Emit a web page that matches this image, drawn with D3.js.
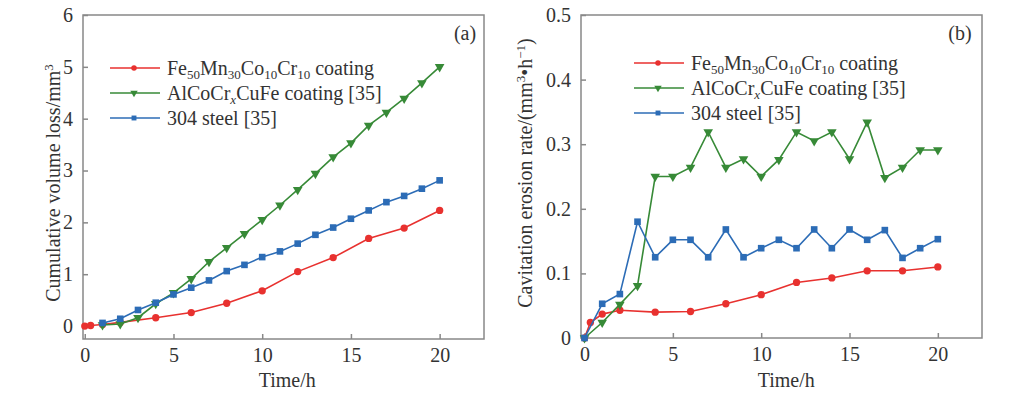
<!DOCTYPE html>
<html>
<head>
<meta charset="utf-8">
<script src="https://cdn.jsdelivr.net/npm/d3@7"></script>
<style>
  body { margin: 0; background: #fff; }
  svg { display: block; font-family: "Liberation Serif", "Times New Roman", serif; }
  .axis path, .axis line { stroke: #888; stroke-width: 1.5; }
  .axis text { fill: #333; font-size: 20px; font-family: "Liberation Serif", serif; }
  .lbl { fill: #333; font-size: 20px; font-family: "Liberation Serif", serif; }
</style>
</head>
<body>
<svg width="1024" height="396"></svg>
<script>
// Time (h) for each series
var redTime = [0, 0.33, 1, 2, 4, 6, 8, 10, 12, 14, 16, 18, 20];
var hourTime = [1, 2, 3, 4, 5, 6, 7, 8, 9, 10, 11, 12, 13, 14, 15, 16, 17, 18, 19, 20];
var hourTime0 = [0].concat(hourTime);

// (a) cumulative volume loss, mm3
var redCum = [0, 0.01, 0.03, 0.07, 0.16, 0.26, 0.44, 0.68, 1.05, 1.32, 1.69, 1.89, 2.23];
var greenCum = [0.02, 0.04, 0.16, 0.43, 0.64, 0.91, 1.24, 1.51, 1.78, 2.05, 2.33, 2.63, 2.94, 3.26, 3.53, 3.87, 4.12, 4.39, 4.69, 5.0];
var blueCum = [0.06, 0.14, 0.31, 0.45, 0.61, 0.74, 0.88, 1.06, 1.18, 1.33, 1.44, 1.59, 1.76, 1.90, 2.07, 2.23, 2.39, 2.51, 2.65, 2.81];

// (b) cavitation erosion rate
var redRate = [0, 0.024, 0.037, 0.043, 0.040, 0.041, 0.053, 0.067, 0.086, 0.093, 0.104, 0.104, 0.110];
var greenRate = [0, 0.024, 0.052, 0.081, 0.25, 0.25, 0.264, 0.319, 0.264, 0.277, 0.25, 0.276, 0.319, 0.305, 0.319, 0.277, 0.334, 0.248, 0.264, 0.291, 0.291];
var blueRate = [0, 0.053, 0.068, 0.18, 0.125, 0.152, 0.152, 0.125, 0.168, 0.125, 0.139, 0.152, 0.139, 0.168, 0.139, 0.168, 0.152, 0.167, 0.124, 0.139, 0.153];

var xTicks = [0, 5, 10, 15, 20];
var yTicksA = [0, 1, 2, 3, 4, 5, 6];
var yTicksB = [0, 0.1, 0.2, 0.3, 0.4, 0.5];

var RED = "#e8312f", GREEN = "#378a37", BLUE = "#2c6cb6";

var svg = d3.select("svg");

function zip(xs, ys) { return xs.map(function(x, i) { return [x, ys[i]]; }); }

// flip a d3 symbol path upside down (for the down-pointing triangles)
function flip(path) {
  return "M" + path.slice(1).split(/(?=[LZ])/).map(function(seg) {
    var c = seg.replace(/^[MLZ]/, "");
    if (!c) return "";
    var p = c.split(",");
    return (+p[0]) + "," + (-p[1]);
  }).filter(Boolean).join("L") + "Z";
}

function panel(opt) {
  var x = d3.scaleLinear().domain(opt.xDom).range([opt.left, opt.right]);
  var y = d3.scaleLinear().domain(opt.yDom).range([opt.bottom, opt.top]);
  var g = svg.append("g");

  // frame
  g.append("rect")
    .attr("x", opt.left).attr("y", opt.top)
    .attr("width", opt.right - opt.left).attr("height", opt.bottom - opt.top)
    .attr("fill", "none").attr("stroke", "#888").attr("stroke-width", 1.5);

  g.append("g").attr("class", "axis")
    .attr("transform", "translate(0," + opt.bottom + ")")
    .call(d3.axisBottom(x).tickValues(xTicks).tickSizeInner(-5).tickSizeOuter(0).tickPadding(9).tickFormat(d3.format("d")));

  g.append("g").attr("class", "axis")
    .attr("transform", "translate(" + opt.left + ",0)")
    .call(d3.axisLeft(y).tickValues(opt.yTicks).tickSizeInner(-5).tickSizeOuter(0).tickPadding(10).tickFormat(opt.fmt));

  g.selectAll(".axis .domain").remove();

  var line = d3.line().x(function(d) { return x(d[0]); }).y(function(d) { return y(d[1]); });

  opt.series.forEach(function(s) {
    var pts = zip(s.t, s.v);
    g.append("path").datum(pts)
      .attr("d", line).attr("fill", "none")
      .attr("stroke", s.color).attr("stroke-width", 1.6);
    g.selectAll(null).data(pts).enter()
      .append("path")
      .attr("transform", function(d) { return "translate(" + x(d[0]) + "," + y(d[1]) + ")"; })
      .attr("d", s.sym)
      .attr("fill", s.color);
  });

  // legend
  var names = [
    [["Fe", 0], ["50", 1], ["Mn", 0], ["30", 1], ["Co", 0], ["10", 1], ["Cr", 0], ["10", 1], [" coating", 0]],
    [["AlCoCr", 0], ["x", 2], ["CuFe coating [35]", 0]],
    [["304 steel [35]", 0]]
  ];
  opt.series.forEach(function(s, i) {
    var ly = opt.legY + i * 25;
    g.append("line")
      .attr("x1", opt.legX).attr("x2", opt.legX + 50)
      .attr("y1", ly).attr("y2", ly)
      .attr("stroke", s.color).attr("stroke-width", 1.6);
    g.append("path")
      .attr("transform", "translate(" + (opt.legX + 24) + "," + ly + ")")
      .attr("d", s.legSym).attr("fill", s.color);
    var t = g.append("text").attr("class", "lbl")
      .attr("x", opt.legX + 57).attr("y", ly + 7);
    var shift = 0;
    names[i].forEach(function(p) {
      var dy = (p[1] ? 4 : 0) - shift;
      shift += dy;
      var ts = t.append("tspan").attr("dy", dy).text(p[0]);
      if (p[1] === 1) ts.style("font-size", "13px");
      if (p[1] === 2) ts.style("font-size", "13px").style("font-style", "italic");
    });
  });

  g.append("text").attr("class", "lbl")
    .attr("x", opt.tagX).attr("y", 40).attr("text-anchor", "middle").text(opt.tag);

  g.append("text").attr("class", "lbl")
    .attr("x", (x(0) + x(20)) / 2 + 25).attr("y", 387)
    .attr("text-anchor", "middle").text("Time/h");

  var yl = g.append("text").attr("class", "lbl")
    .attr("transform", "translate(" + opt.yLabX + "," + opt.yLabY + ") rotate(-90)")
    .attr("text-anchor", "middle");
  opt.yLab(yl);
}

var circ = d3.symbol().type(d3.symbolCircle).size(42)();
var sq = d3.symbol().type(d3.symbolSquare).size(44)();
var triDown = flip(d3.symbol().type(d3.symbolTriangle).size(40)());
var circS = d3.symbol().type(d3.symbolCircle).size(24)();
var sqS = d3.symbol().type(d3.symbolSquare).size(24)();
var triDownS = flip(d3.symbol().type(d3.symbolTriangle).size(24)());

panel({
  left: 83, right: 484, top: 15, bottom: 339,
  xDom: [-0.1, 22.5], yDom: [-0.25, 6], yTicks: yTicksA, fmt: d3.format("d"),
  legX: 110, legY: 68, tag: "(a)", tagX: 465,
  yLabX: 60, yLabY: 183,
  yLab: function(t) {
    t.append("tspan").text("Cumulative volume loss/mm");
    t.append("tspan").attr("dy", -7).style("font-size", "13px").text("3");
  },
  series: [
    { t: redTime, v: redCum, color: RED, sym: circ, legSym: circS },
    { t: hourTime, v: greenCum, color: GREEN, sym: triDown, legSym: triDownS },
    { t: hourTime, v: blueCum, color: BLUE, sym: sq, legSym: sqS }
  ]
});

panel({
  left: 581, right: 982, top: 15, bottom: 338,
  xDom: [-0.2, 22.5], yDom: [0, 0.5], yTicks: yTicksB, fmt: function(d) { return d === 0 ? "0" : d3.format(".1f")(d); },
  legX: 634, legY: 63, tag: "(b)", tagX: 960,
  yLabX: 532, yLabY: 173,
  yLab: function(t) {
    t.append("tspan").text("Cavitation erosion rate/(mm");
    t.append("tspan").attr("dy", -7).style("font-size", "13px").text("3");
    t.append("tspan").attr("dy", 7).text("\u2022h");
    t.append("tspan").attr("dy", -7).style("font-size", "13px").text("\u22121");
    t.append("tspan").attr("dy", 7).text(")");
  },
  series: [
    { t: redTime, v: redRate, color: RED, sym: circ, legSym: circS },
    { t: hourTime0, v: greenRate, color: GREEN, sym: triDown, legSym: triDownS },
    { t: hourTime0, v: blueRate, color: BLUE, sym: sq, legSym: sqS }
  ]
});
</script>
</body>
</html>
